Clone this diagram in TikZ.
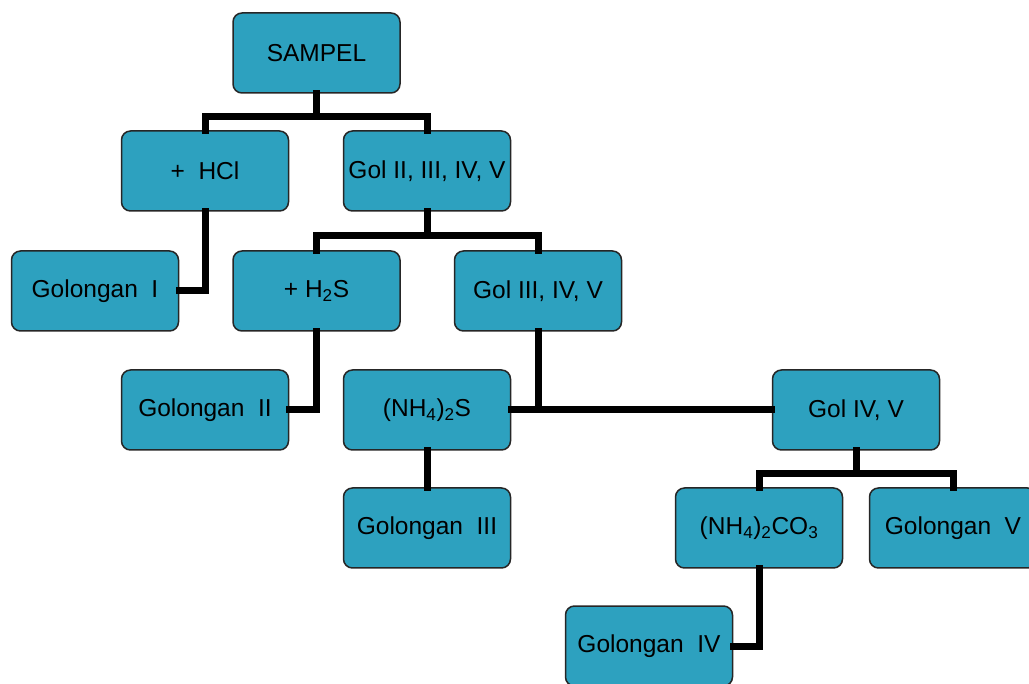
\documentclass[tikz,border=0pt]{standalone}
\usepackage{fontspec}
\setmainfont{Liberation Sans}
\usetikzlibrary{positioning, calc}
\definecolor{boxblue}{RGB}{45,161,191}
\tikzset{box/.style={draw=black!85, line width=1.5pt, fill=boxblue, rounded corners=9pt,
    minimum width=167pt, minimum height=80pt, inner sep=0pt,
    font=\fontsize{24.5}{28}\selectfont}}
\tikzset{link/.style={line width=7pt, line cap=rect}}

\begin{document}
\begin{tikzpicture}[x=1pt, y=-1pt]
      \useasboundingbox (0,0) rectangle (1029,684);
      \node[box] (s0) at (316.5,53) {SAMPEL};

      \node[box] (hcl) at (205,171) {+\ \ HCl};
      \node[box] (g2) at (427,171) {Gol II, III, IV, V};

      \node[box] (gI) at (95,291) {Golongan\ \ I};
      \node[box] (h2s) at (316.5,291) {+ H\textsubscript{2}S};
      \node[box] (g3) at (538,291) {Gol III, IV, V};

      \node[box] (gII) at (205,410) {Golongan\ \ II};
      \node[box] (nh4s) at (427,410) {(NH\textsubscript{4})\textsubscript{2}S};
      \node[box] (g4) at (856,410) {Gol IV, V};

      \node[box] (gIII) at (427,528) {Golongan\ \ III};
      \node[box] (co3) at (759,528) {(NH\textsubscript{4})\textsubscript{2}CO\textsubscript{3}};
      \node[box] (gV) at (953,528) {Golongan\ \ V};

      \node[box] (gIV) at (649,646) {Golongan\ \ IV};

      \draw[link] (s0.south) -- ++(0,23) -| (hcl.north);
      \draw[link] (s0.south) -- ++(0,23) -| (g2.north);
      \draw[link] (hcl.south) |- (gI.east);
      \draw[link] (g2.south) -- ++(0,24) -| (h2s.north);
      \draw[link] (g2.south) -- ++(0,24) -| (g3.north);
      \draw[link] (h2s.south) |- (gII.east);
      \draw[link] (g3.south) -- (g3.south |- nh4s.east);
      \draw[link] (nh4s.east) -- (g4.west);
      \draw[link] (nh4s.south) -- (gIII.north);
      \draw[link] (g4.south) -- ++(0,23) -| (co3.north);
      \draw[link] (g4.south) -- ++(0,23) -| (gV.north);
      \draw[link] (co3.south) |- (gIV.east);
\end{tikzpicture}
\end{document}
